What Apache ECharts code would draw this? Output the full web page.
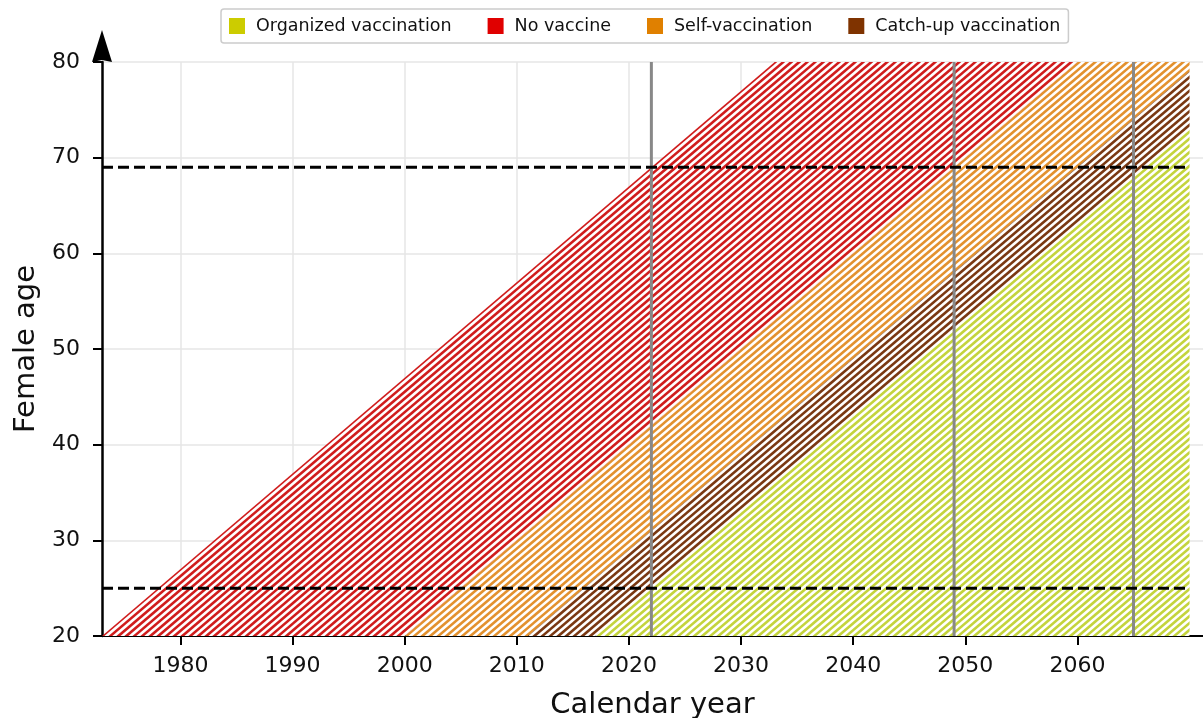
<!DOCTYPE html>
<html>
<head>
<meta charset="utf-8">
<script src="https://cdn.jsdelivr.net/npm/echarts@6/dist/echarts.min.js"></script>
<style>
html,body{margin:0;padding:0;background:#ffffff;}
#chart{width:1203px;height:718px;}
</style>
</head>
<body>
<div id="chart"></div>
<script>
// ---- data ----
const bandNames = ['No vaccine', 'Self-vaccination', 'Catch-up vaccination', 'Organized vaccination'];
const bandBirthStart = [1953, 1980, 1991, 1997];
const bandBirthEnd = [1980, 1991, 1997, 2050];
const legendOrder = ['Organized vaccination', 'No vaccine', 'Self-vaccination', 'Catch-up vaccination'];
const yearStart = 1973;
const yearEnd = 2070;
const ageMin = 20;
const ageMax = 80;
const refYears = [2022, 2049, 2065];
const refAges = [69, 25];
const xTickValues = [1980, 1990, 2000, 2010, 2020, 2030, 2040, 2050, 2060];
const yTickValues = [20, 30, 40, 50, 60, 70, 80];

// ---- styles ----
const bandColors = ['#e00000', '#e08000', '#7f3300', '#cccc00'];
const stripeColors = ['#d01c1c', '#e3912e', '#7a3812', '#c4d43c'];
const FONT = 'DejaVu Sans';

// stripes parallel to the cohort direction (one year of age per calendar year)
function makePattern(color) {
  const W = 136, H = 116, n = 17, step = W / n;
  const c = document.createElement('canvas');
  c.width = W; c.height = H;
  const ctx = c.getContext('2d');
  ctx.fillStyle = '#ffffff';
  ctx.fillRect(0, 0, W, H);
  ctx.strokeStyle = color;
  ctx.lineWidth = 2.6;
  for (let k = -n - 1; k <= n + 1; k++) {
    const x0 = k * step;
    ctx.beginPath();
    ctx.moveTo(x0 - 0.2 * W, H + 0.2 * H);
    ctx.lineTo(x0 + 1.2 * W, -0.2 * H);
    ctx.stroke();
  }
  return { image: c, repeat: 'repeat' };
}
const patterns = stripeColors.map(makePattern);

function clipX(poly, xv, keepGreater) {
  const out = [];
  for (let i = 0; i < poly.length; i++) {
    const a = poly[i], b = poly[(i + 1) % poly.length];
    const ina = keepGreater ? a[0] >= xv : a[0] <= xv;
    const inb = keepGreater ? b[0] >= xv : b[0] <= xv;
    if (ina) out.push(a);
    if (ina !== inb) {
      const t = (xv - a[0]) / (b[0] - a[0]);
      out.push([xv, a[1] + t * (b[1] - a[1])]);
    }
  }
  return out;
}
function bandPolygon(i) {
  const b1 = bandBirthStart[i], b2 = bandBirthEnd[i];
  let poly = [[b1 + ageMin, ageMin], [b2 + ageMin, ageMin], [b2 + ageMax, ageMax], [b1 + ageMax, ageMax]];
  poly = clipX(poly, yearStart, true);
  poly = clipX(poly, yearEnd, false);
  return poly;
}

const series = [];
bandNames.forEach((name, i) => {
  series.push({
    name: name,
    type: 'custom',
    coordinateSystem: 'cartesian2d',
    itemStyle: { color: bandColors[i] },
    silent: true,
    z: 2,
    data: [[yearStart, ageMin]],
    renderItem: function (params, api) {
      const pts = bandPolygon(i).map(p => api.coord(p));
      return {
        type: 'polygon',
        shape: { points: pts },
        style: { fill: patterns[i], stroke: null }
      };
    }
  });
});
refYears.forEach(yr => {
  series.push({
    type: 'line', silent: true, symbol: 'none', z: 4,
    lineStyle: { color: '#888888', width: 3 },
    data: [[yr, ageMin], [yr, ageMax]]
  });
});
refAges.forEach(ag => {
  series.push({
    type: 'line', silent: true, symbol: 'none', z: 5,
    lineStyle: { color: '#000000', width: 3, type: [11, 5] },
    data: [[yearStart, ag], [yearEnd, ag]]
  });
});

// arrow head drawn in the upper half of the symbol box so it sits above the axis end
const arrowPath = 'path://M10,0 L20,32 L10,30 L0,32 Z M10,63.98 L10.02,64 L9.98,64 Z';

const chart = echarts.init(document.getElementById('chart'), null, { renderer: 'canvas' });
chart.setOption({
  animation: false,
  backgroundColor: '#ffffff',
  textStyle: { fontFamily: FONT },
  legend: {
    data: legendOrder,
    left: 221, top: 9,
    padding: [8, 8],
    itemGap: 36,
    itemWidth: 16, itemHeight: 16,
    icon: 'rect',
    borderColor: '#cccccc', borderWidth: 1.5, borderRadius: 3,
    backgroundColor: '#ffffff',
    textStyle: { fontFamily: FONT, fontSize: 17.5, color: '#111111', padding: [0, 0, 0, 6] }
  },
  grid: { left: 102, right: 0, top: 62, bottom: 82, outerBoundsMode: 'none' },
  xAxis: {
    type: 'value', min: yearStart, max: 2071.2,
    name: 'Calendar year', nameLocation: 'middle', nameGap: 55,
    nameTextStyle: { fontFamily: FONT, fontSize: 29, color: '#111111' },
    axisLine: { show: true, onZero: false, lineStyle: { color: '#000000', width: 2 } },
    axisTick: { show: true, inside: false, length: 9, customValues: xTickValues, lineStyle: { color: '#000000', width: 2 } },
    axisLabel: { show: true, margin: 19, customValues: xTickValues, fontFamily: FONT, fontSize: 22, color: '#111111',
      formatter: v => String(Math.round(v)) },
    splitLine: { show: true, lineStyle: { color: '#e6e6e6', width: 1.5 } }
  },
  yAxis: {
    type: 'value', min: ageMin, max: ageMax, interval: 10,
    name: 'Female age', nameLocation: 'middle', nameGap: 60, nameRotate: 90,
    nameTextStyle: { fontFamily: FONT, fontSize: 29, color: '#111111' },
    axisLine: { show: true, onZero: false, symbol: ['none', arrowPath], symbolSize: [21, 64], symbolOffset: [0, 0],
      lineStyle: { color: '#000000', width: 2.5 } },
    axisTick: { show: true, inside: false, length: 9, lineStyle: { color: '#000000', width: 2 } },
    axisLabel: { show: true, margin: 22, fontFamily: FONT, fontSize: 22, color: '#111111',
      formatter: v => String(v) },
    splitLine: { show: true, lineStyle: { color: '#e6e6e6', width: 1.5 } }
  },
  series: series
});
</script>
</body>
</html>
